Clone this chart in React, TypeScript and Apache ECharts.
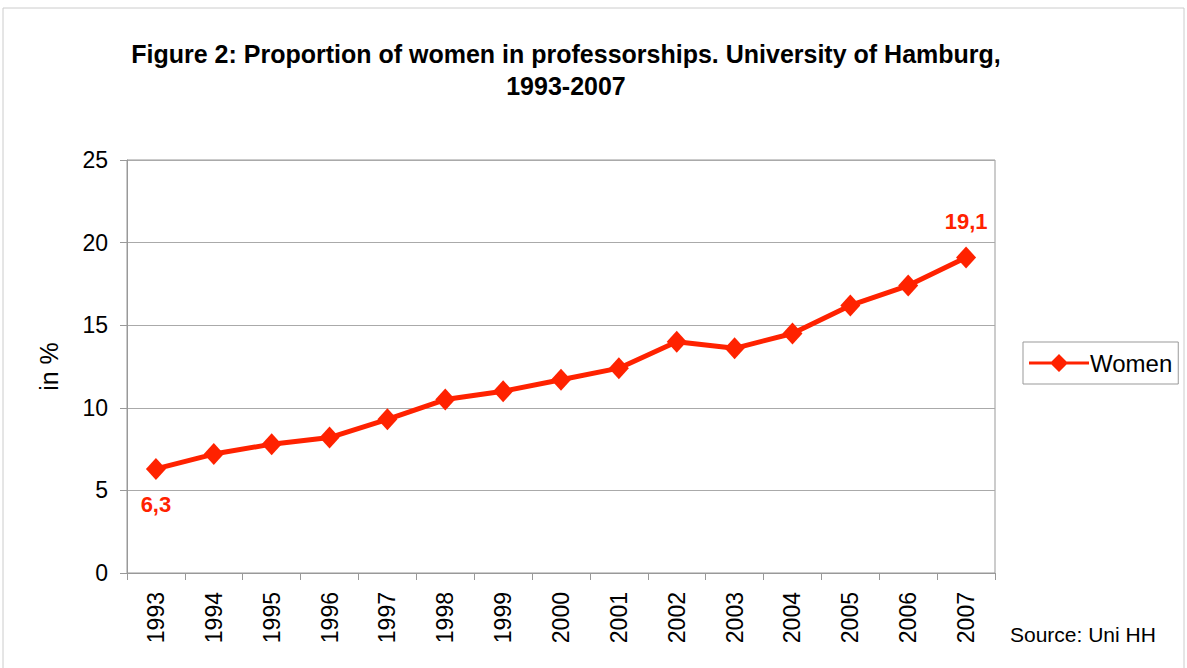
import React, { useEffect, useRef } from "react";
import * as echarts from "echarts";

const years = ["1993","1994","1995","1996","1997","1998","1999","2000","2001","2002","2003","2004","2005","2006","2007"];
const women = [6.3, 7.2, 7.8, 8.2, 9.3, 10.5, 11.0, 11.7, 12.4, 14.0, 13.6, 14.5, 16.2, 17.4, 19.1];
const labelledIdx = { first: 0, last: 14 };

const RED = "#ff2200";
const FONT = "Liberation Sans, Arial, sans-serif";
const LEGEND_ICON = "path://M0,7.5 L22.5,7.5 L30,0 L37.5,7.5 L60,7.5 L60,10.5 L37.5,10.5 L30,18 L22.5,10.5 L0,10.5 Z";

export default function App() {
  const ref = useRef<HTMLDivElement>(null);
  useEffect(() => {
    document.body.style.margin = "0";
    const chart = echarts.init(ref.current!, null, { renderer: "svg" });
    const data = women.map((v, i) => {
      if (i === labelledIdx.first) {
        return { value: v, label: { show: true, position: "bottom", distance: 14 } };
      }
      if (i === labelledIdx.last) {
        return { value: v, label: { show: true, position: "top", distance: 14 } };
      }
      return { value: v };
    });
    chart.setOption({
      animation: false,
      backgroundColor: "#ffffff",
      textStyle: { fontFamily: FONT },
      title: {
        text: "Figure 2: Proportion of women in professorships. University of Hamburg,\n1993-2007",
        left: 561,
        textAlign: "center",
        top: 33,
        textStyle: { fontSize: 25, fontWeight: "bold", color: "#000", lineHeight: 32, fontFamily: FONT },
      },
      grid: {
        left: 127, right: 192, top: 160, bottom: 95,
        show: true, borderColor: "#999", borderWidth: 1, backgroundColor: "transparent",
      },
      legend: {
        left: 1023, top: 342,
        padding: [9, 6, 9, 6],
        borderColor: "#999", borderWidth: 1,
        itemWidth: 60, itemHeight: 18, itemGap: 4,
        textStyle: { fontSize: 24, color: "#000", fontFamily: FONT, padding: [0, 0, 0, -4] },
        data: [{ name: "Women", icon: LEGEND_ICON }],
      },
      xAxis: {
        type: "category",
        data: years,
        boundaryGap: true,
        axisLine: { lineStyle: { color: "#999", width: 1 } },
        axisTick: { show: true, length: 7, lineStyle: { color: "#999" } },
        axisLabel: { rotate: 90, fontSize: 23, color: "#000", margin: 19, fontFamily: FONT },
        splitLine: { show: false },
      },
      yAxis: {
        type: "value",
        min: 0, max: 25, interval: 5,
        name: "in %",
        nameLocation: "middle",
        nameGap: 66,
        nameTextStyle: { fontSize: 25, color: "#000", fontFamily: FONT },
        axisLine: { show: true, lineStyle: { color: "#999" } },
        axisTick: { show: true, length: 7, lineStyle: { color: "#999" } },
        axisLabel: { fontSize: 23, color: "#000", margin: 19, fontFamily: FONT },
        splitLine: { show: true, lineStyle: { color: "#aaa", width: 1 } },
      },
      series: [
        {
          name: "Women",
          type: "line",
          data,
          symbol: "diamond",
          symbolSize: [20, 22],
          lineStyle: { color: RED, width: 5 },
          itemStyle: { color: RED },
          label: {
            show: false,
            color: RED,
            fontSize: 22,
            fontWeight: "bold",
            fontFamily: FONT,
            formatter: (p: any) => String(p.value).replace(".", ","),
          },
        },
      ],
      graphic: [
        {
          type: "rect",
          shape: { x: 3, y: 8, width: 1181, height: 700 },
          style: { fill: "none", stroke: "#ccc", lineWidth: 1 },
          silent: true,
        },
        {
          type: "text",
          left: 1010,
          top: 624,
          style: { text: "Source: Uni HH", fontSize: 21, fill: "#000", fontFamily: FONT },
        },
      ],
    });
    return () => chart.dispose();
  }, []);
  return <div ref={ref} style={{ width: 1187, height: 668 }} />;
}
